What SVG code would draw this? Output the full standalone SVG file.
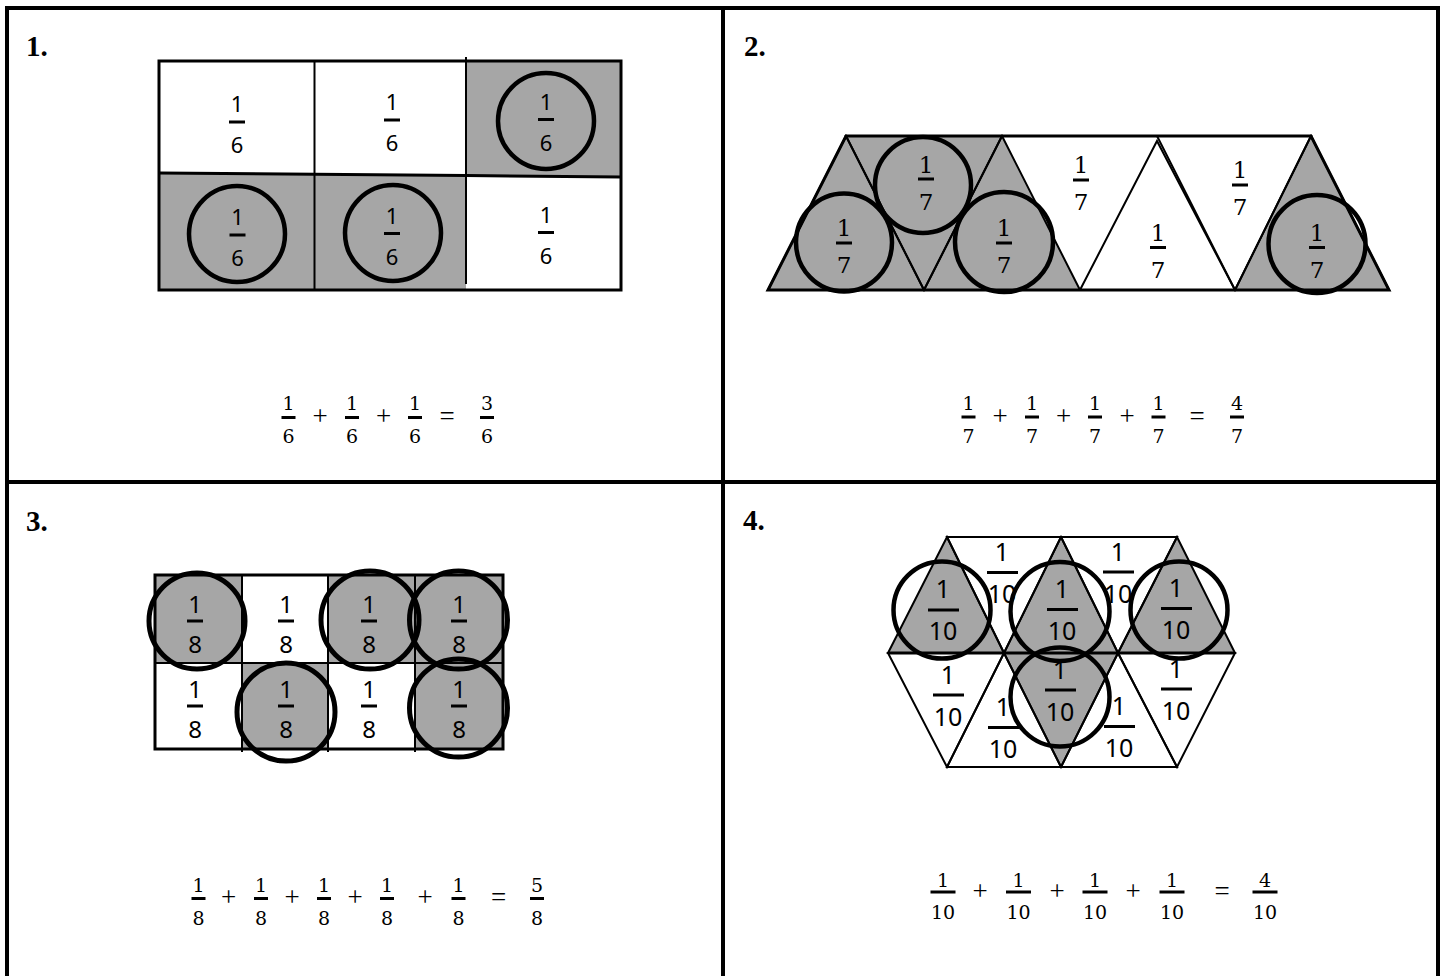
<svg xmlns="http://www.w3.org/2000/svg" width="1444" height="976" viewBox="0 0 1444 976">
<style>
.bg{fill:#ffffff}
.frame{fill:none;stroke:#000;stroke-width:4}
.g{fill:#a6a6a6}
.w{fill:#ffffff}
.edge{fill:none;stroke:#000;stroke-width:2}
.edge3{fill:none;stroke:#000;stroke-width:3}
.ring{fill:none;stroke:#000;stroke-width:4.5}
.lbl{font-family:"Liberation Serif","Times New Roman",serif;font-weight:bold;font-size:29px;fill:#000}
.f1{font-family:"Noto Sans","DejaVu Sans",sans-serif;font-size:22px;fill:#000;text-anchor:middle}
.f2{font-family:"DejaVu Serif","Liberation Serif",serif;font-size:23px;fill:#000;text-anchor:middle}
.f3{font-family:"Noto Sans","DejaVu Sans",sans-serif;font-size:24px;fill:#000;text-anchor:middle}
.f4{font-family:"Noto Sans","DejaVu Sans",sans-serif;font-size:25px;fill:#000;text-anchor:middle}
.eq{font-family:"DejaVu Serif","Liberation Serif",serif;font-size:19px;fill:#000;text-anchor:middle}
.op{font-family:"Liberation Serif","Times New Roman",serif;font-size:27px;fill:#000;text-anchor:middle}
.bar{fill:#000}
</style>
<rect class="bg" x="0" y="0" width="1444" height="976"/>

<g id="frame">
<path class="frame" d="M7,980 V8 H1438 V980"/>
<line class="frame" x1="723" y1="8" x2="723" y2="980"/>
<line class="frame" x1="7" y1="482" x2="1438" y2="482"/>
</g>

<g id="labels">
<text class="lbl" x="26" y="56">1.</text>
<text class="lbl" x="744" y="56">2.</text>
<text class="lbl" x="26" y="531">3.</text>
<text class="lbl" x="743" y="530">4.</text>
</g>

<!-- Panel 1 -->
<g id="panel1">
<polygon class="g" points="466,61 621,61 621,177 466,176"/>
<polygon class="g" points="159,173 314,174 314,290 159,290"/>
<polygon class="g" points="314,174 466,176 466,290 314,290"/>
<rect class="edge3" x="159" y="61" width="462" height="229"/>
<line class="edge" x1="314.5" y1="61" x2="314.5" y2="290"/>
<line class="edge" x1="466" y1="57" x2="466" y2="284"/>
<polyline class="edge3" points="159,173 466,175.5 621,177"/>
<circle class="ring" cx="546" cy="121" r="48"/>
<circle class="ring" cx="237" cy="234" r="48"/>
<circle class="ring" cx="393" cy="233" r="48"/>
<g class="f1">
<text x="237" y="112">1</text><rect class="bar" x="229" y="120.5" width="16" height="3"/><text x="237" y="153">6</text>
<text x="392" y="110">1</text><rect class="bar" x="384" y="118.5" width="16" height="3"/><text x="392" y="151">6</text>
<text x="546" y="109.5">1</text><rect class="bar" x="538" y="118" width="16" height="3"/><text x="546" y="150.5">6</text>
<text x="237.5" y="225">1</text><rect class="bar" x="229.5" y="233.5" width="16" height="3"/><text x="237.5" y="266">6</text>
<text x="392" y="223.5">1</text><rect class="bar" x="384" y="232" width="16" height="3"/><text x="392" y="264.5">6</text>
<text x="546" y="222.5">1</text><rect class="bar" x="538" y="231" width="16" height="3"/><text x="546" y="263.5">6</text>
</g>
</g>

<!-- Panel 2 -->
<g id="panel2">
<polygon class="g" points="768,290 846,136 1002,136 1080,290"/>
<polygon class="g" points="1235,290 1311,136 1389,290"/>
<polygon class="edge" points="768,290 846,136 924,290"/>
<polygon class="edge" points="846,136 1002,136 924,290"/>
<polygon class="edge" points="924,290 1002,136 1080,290"/>
<polygon class="edge" points="1080,290 1157,141 1235,290"/>
<polygon class="edge" points="1157,136 1311,136 1235,290"/>
<polygon class="edge" points="1235,290 1311,136 1389,290"/>
<polygon class="edge3" points="768,290 846,136 1311,136 1389,290"/>
<ellipse class="ring" cx="844" cy="242.5" rx="48" ry="49"/>
<ellipse class="ring" cx="923" cy="185" rx="48" ry="48"/>
<ellipse class="ring" cx="1004" cy="242" rx="49" ry="50"/>
<ellipse class="ring" cx="1317" cy="244" rx="48.5" ry="49"/>
<g class="f2">
<text x="844" y="236">1</text><rect class="bar" x="836" y="241.5" width="16" height="3"/><text x="844" y="273">7</text>
<text x="926" y="173">1</text><rect class="bar" x="918" y="177.5" width="16" height="3"/><text x="926" y="210">7</text>
<text x="1004" y="236">1</text><rect class="bar" x="996" y="241.5" width="16" height="3"/><text x="1004" y="273">7</text>
<text x="1081" y="173">1</text><rect class="bar" x="1073" y="178.5" width="16" height="3"/><text x="1081" y="210">7</text>
<text x="1158" y="241">1</text><rect class="bar" x="1150" y="246" width="16" height="3"/><text x="1158" y="278">7</text>
<text x="1240" y="178">1</text><rect class="bar" x="1232" y="183.5" width="16" height="3"/><text x="1240" y="215">7</text>
<text x="1317" y="241">1</text><rect class="bar" x="1309" y="246" width="16" height="3"/><text x="1317" y="278">7</text>
</g>
</g>

<!-- Panel 3 -->
<g id="panel3">
<rect class="g" x="155" y="575" width="87" height="88"/>
<rect class="g" x="328" y="575" width="175" height="88"/>
<rect class="g" x="242" y="663" width="86" height="86"/>
<rect class="g" x="415" y="663" width="88" height="86"/>
<rect class="edge3" x="155" y="575" width="348" height="174"/>
<line class="edge" x1="242" y1="575" x2="242" y2="752"/>
<line class="edge" x1="328" y1="575" x2="328" y2="752"/>
<line class="edge" x1="415" y1="575" x2="415" y2="752"/>
<line class="edge" x1="155" y1="663" x2="503" y2="663"/>
<circle class="ring" cx="197" cy="621" r="48" style="stroke-width:5"/>
<circle class="ring" cx="370" cy="620" r="49" style="stroke-width:5"/>
<circle class="ring" cx="458.5" cy="620" r="49" style="stroke-width:5"/>
<circle class="ring" cx="286" cy="712" r="49" style="stroke-width:5"/>
<circle class="ring" cx="458.5" cy="708" r="49" style="stroke-width:5"/>
<g class="f3">
<text x="195" y="613">1</text><rect class="bar" x="187" y="619.5" width="16" height="3"/><text x="195" y="653">8</text>
<text x="286" y="613">1</text><rect class="bar" x="278" y="619.5" width="16" height="3"/><text x="286" y="653">8</text>
<text x="369" y="613">1</text><rect class="bar" x="361" y="619.5" width="16" height="3"/><text x="369" y="653">8</text>
<text x="459" y="613">1</text><rect class="bar" x="451" y="619.5" width="16" height="3"/><text x="459" y="653">8</text>
<text x="195" y="698">1</text><rect class="bar" x="187" y="704.5" width="16" height="3"/><text x="195" y="738">8</text>
<text x="286" y="698">1</text><rect class="bar" x="278" y="704.5" width="16" height="3"/><text x="286" y="738">8</text>
<text x="369" y="698">1</text><rect class="bar" x="361" y="704.5" width="16" height="3"/><text x="369" y="738">8</text>
<text x="459" y="698">1</text><rect class="bar" x="451" y="704.5" width="16" height="3"/><text x="459" y="738">8</text>
</g>
</g>

<!-- Panel 4 -->
<g id="panel4">
<polygon class="g" points="888,653 947,537 1004,653"/>
<polygon class="g" points="1004,653 1061,537 1118,653"/>
<polygon class="g" points="1118,653 1177,537 1235,653"/>
<polygon class="g" points="1004,653 1118,653 1061,767"/>
<polygon class="edge" points="888,653 947,537 1004,653"/>
<polygon class="edge" points="947,537 1061,537 1004,653"/>
<polygon class="edge" points="1004,653 1061,537 1118,653"/>
<polygon class="edge" points="1061,537 1177,537 1118,653"/>
<polygon class="edge" points="1118,653 1177,537 1235,653"/>
<polygon class="edge" points="888,653 1004,653 947,767"/>
<polygon class="edge" points="947,767 1004,653 1061,767"/>
<polygon class="edge" points="1004,653 1118,653 1061,767"/>
<polygon class="edge" points="1061,767 1118,653 1177,767"/>
<polygon class="edge" points="1118,653 1235,653 1177,767"/>
<line class="edge3" x1="888" y1="653" x2="1233" y2="653"/>
<g class="f4">
<text x="943" y="598">1</text><rect class="bar" x="928" y="608.5" width="31" height="3"/><text x="943" y="640">10</text>
<text x="1002" y="561">1</text><rect class="bar" x="987" y="571" width="31" height="3"/><text x="1002" y="603">10</text>
<text x="1062" y="597.5">1</text><rect class="bar" x="1047" y="608" width="31" height="3"/><text x="1062" y="639.5">10</text>
<text x="1118" y="560.5">1</text><rect class="bar" x="1103" y="570.5" width="31" height="3"/><text x="1118" y="602.5">10</text>
<text x="1176" y="596.5">1</text><rect class="bar" x="1161" y="607" width="31" height="3"/><text x="1176" y="638.5">10</text>
<text x="948" y="683.5">1</text><rect class="bar" x="933" y="693.5" width="31" height="3"/><text x="948" y="725.5">10</text>
<text x="1003" y="716">1</text><rect class="bar" x="988" y="726" width="31" height="3"/><text x="1003" y="758">10</text>
<text x="1060" y="678.5">1</text><rect class="bar" x="1045" y="688.5" width="31" height="3"/><text x="1060" y="720.5">10</text>
<text x="1119" y="715">1</text><rect class="bar" x="1104" y="725" width="31" height="3"/><text x="1119" y="757">10</text>
<text x="1176" y="677.5">1</text><rect class="bar" x="1161" y="687.5" width="31" height="3"/><text x="1176" y="719.5">10</text>
</g>
<circle class="ring" cx="942" cy="610" r="48.5"/>
<circle class="ring" cx="1060" cy="611.5" r="49.5"/>
<circle class="ring" cx="1179" cy="610" r="48.5"/>
<circle class="ring" cx="1060" cy="697" r="49.5"/>
</g>

<!-- Equations -->
<g id="eq1">
<g class="eq">
<text x="288.5" y="410">1</text><rect class="bar" x="281.5" y="416" width="14" height="3"/><text x="288.5" y="443">6</text>
<text x="352" y="410">1</text><rect class="bar" x="345" y="416" width="14" height="3"/><text x="352" y="443">6</text>
<text x="415" y="410">1</text><rect class="bar" x="408" y="416" width="14" height="3"/><text x="415" y="443">6</text>
<text x="487" y="410">3</text><rect class="bar" x="480" y="416" width="14" height="3"/><text x="487" y="443">6</text>
</g>
<g class="op">
<text x="320" y="425">+</text><text x="383.5" y="425">+</text><text x="447" y="425">=</text>
</g>
</g>

<g id="eq2">
<g class="eq">
<text x="968.5" y="409.5">1</text><rect class="bar" x="961.5" y="415.5" width="14" height="3"/><text x="968.5" y="442.5">7</text>
<text x="1032" y="409.5">1</text><rect class="bar" x="1025" y="415.5" width="14" height="3"/><text x="1032" y="442.5">7</text>
<text x="1095" y="409.5">1</text><rect class="bar" x="1088" y="415.5" width="14" height="3"/><text x="1095" y="442.5">7</text>
<text x="1158.5" y="409.5">1</text><rect class="bar" x="1151.5" y="415.5" width="14" height="3"/><text x="1158.5" y="442.5">7</text>
<text x="1237" y="409.5">4</text><rect class="bar" x="1230" y="415.5" width="14" height="3"/><text x="1237" y="442.5">7</text>
</g>
<g class="op">
<text x="1000" y="424.5">+</text><text x="1063.5" y="424.5">+</text><text x="1127" y="424.5">+</text><text x="1197" y="424.5">=</text>
</g>
</g>

<g id="eq3">
<g class="eq">
<text x="198.5" y="891.5">1</text><rect class="bar" x="191.5" y="897" width="14" height="3"/><text x="198.5" y="925">8</text>
<text x="261" y="891.5">1</text><rect class="bar" x="254" y="897" width="14" height="3"/><text x="261" y="925">8</text>
<text x="324" y="891.5">1</text><rect class="bar" x="317" y="897" width="14" height="3"/><text x="324" y="925">8</text>
<text x="387" y="891.5">1</text><rect class="bar" x="380" y="897" width="14" height="3"/><text x="387" y="925">8</text>
<text x="458.5" y="891.5">1</text><rect class="bar" x="451.5" y="897" width="14" height="3"/><text x="458.5" y="925">8</text>
<text x="537" y="891.5">5</text><rect class="bar" x="530" y="897" width="14" height="3"/><text x="537" y="925">8</text>
</g>
<g class="op">
<text x="228.5" y="906">+</text><text x="292" y="906">+</text><text x="355" y="906">+</text><text x="425" y="906">+</text><text x="498.5" y="906">=</text>
</g>
</g>

<g id="eq4">
<g class="eq">
<text x="943" y="886.5">1</text><rect class="bar" x="930.5" y="890.5" width="25" height="3"/><text x="943" y="918.5">10</text>
<text x="1018.5" y="886.5">1</text><rect class="bar" x="1006" y="890.5" width="25" height="3"/><text x="1018.5" y="918.5">10</text>
<text x="1095" y="886.5">1</text><rect class="bar" x="1082.5" y="890.5" width="25" height="3"/><text x="1095" y="918.5">10</text>
<text x="1172" y="886.5">1</text><rect class="bar" x="1159.5" y="890.5" width="25" height="3"/><text x="1172" y="918.5">10</text>
<text x="1265" y="886.5">4</text><rect class="bar" x="1252.5" y="890.5" width="25" height="3"/><text x="1265" y="918.5">10</text>
</g>
<g class="op">
<text x="980" y="900">+</text><text x="1057" y="900">+</text><text x="1133" y="900">+</text><text x="1222" y="900">=</text>
</g>
</g>
</svg>
